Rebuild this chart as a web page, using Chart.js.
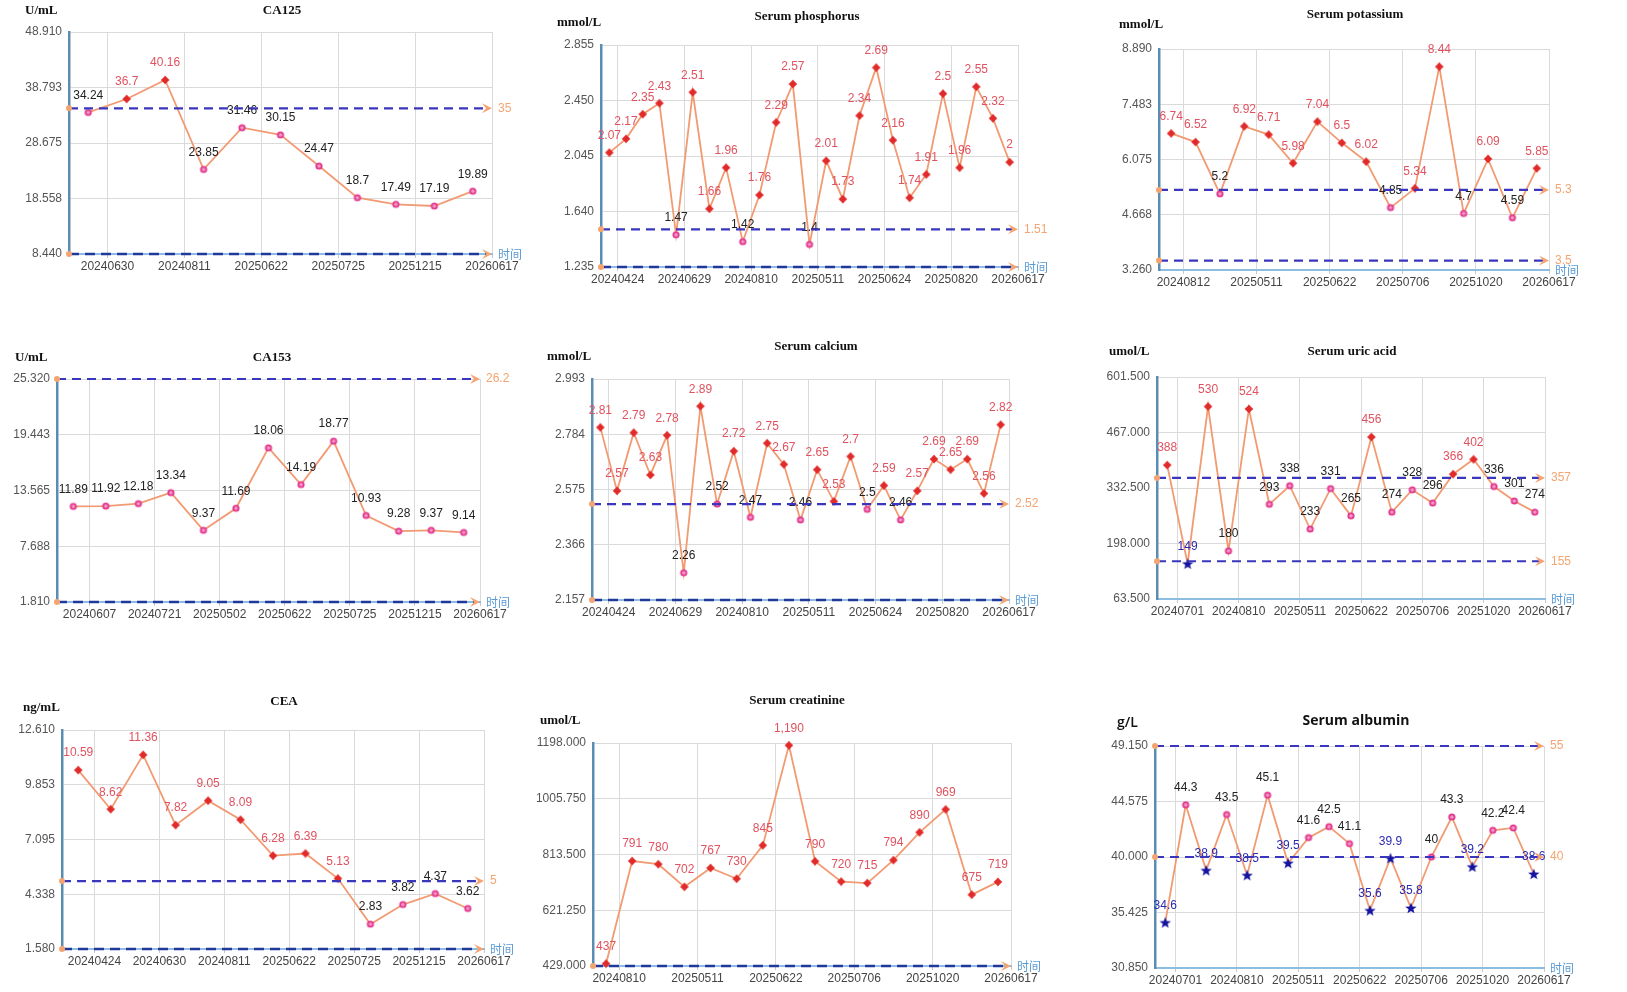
<!DOCTYPE html>
<html>
<head>
<meta charset="utf-8">
<script src="https://cdn.jsdelivr.net/npm/chart.js@4.4.1/dist/chart.umd.min.js"></script>
<style>
  html, body { margin: 0; padding: 0; background: #fff; overflow: hidden; }
  body { width: 1627px; height: 992px; position: relative; }
  .panel { position: absolute; }
</style>
</head>
<body>
<script>
// ---- data ----
const ca125Values = [34.24, 36.7, 40.16, 23.85, 31.46, 30.15, 24.47, 18.7, 17.49, 17.19, 19.89];
const ca125Dates = ['20240630', '20240811', '20250622', '20250725', '20251215', '20260617'];

const phosValues = [2.07, 2.17, 2.35, 2.43, 1.47, 2.51, 1.66, 1.96, 1.42, 1.76, 2.29, 2.57, 1.4,
  2.01, 1.73, 2.34, 2.69, 2.16, 1.74, 1.91, 2.5, 1.96, 2.55, 2.32, 2];
const phosDates = ['20240424', '20240629', '20240810', '20250511', '20250624', '20250820', '20260617'];

const potValues = [6.74, 6.52, 5.2, 6.92, 6.71, 5.98, 7.04, 6.5, 6.02, 4.85, 5.34, 8.44, 4.7, 6.09, 4.59, 5.85];
const potDates = ['20240812', '20250511', '20250622', '20250706', '20251020', '20260617'];

const ca153Values = [11.89, 11.92, 12.18, 13.34, 9.37, 11.69, 18.06, 14.19, 18.77, 10.93, 9.28, 9.37, 9.14];
const ca153Dates = ['20240607', '20240721', '20250502', '20250622', '20250725', '20251215', '20260617'];

const calValues = [2.81, 2.57, 2.79, 2.63, 2.78, 2.26, 2.89, 2.52, 2.72, 2.47, 2.75, 2.67, 2.46,
  2.65, 2.53, 2.7, 2.5, 2.59, 2.46, 2.57, 2.69, 2.65, 2.69, 2.56, 2.82];
const calDates = ['20240424', '20240629', '20240810', '20250511', '20250624', '20250820', '20260617'];

const uricValues = [388, 149, 530, 180, 524, 293, 338, 233, 331, 265, 456, 274, 328, 296, 366, 402, 336, 301, 274];
const uricDates = ['20240701', '20240810', '20250511', '20250622', '20250706', '20251020', '20260617'];

const ceaValues = [10.59, 8.62, 11.36, 7.82, 9.05, 8.09, 6.28, 6.39, 5.13, 2.83, 3.82, 4.37, 3.62];
const ceaDates = ['20240424', '20240630', '20240811', '20250622', '20250725', '20251215', '20260617'];

const creValues = [437, 791, 780, 702, 767, 730, 845, 1190, 790, 720, 715, 794, 890, 969, 675, 719];
const creDates = ['20240810', '20250511', '20250622', '20250706', '20251020', '20260617'];

const albValues = [34.6, 44.3, 38.9, 43.5, 38.5, 45.1, 39.5, 41.6, 42.5, 41.1, 35.6, 39.9, 35.8,
  40, 43.3, 39.2, 42.2, 42.4, 38.6];
const albDates = ['20240701', '20240810', '20250511', '20250622', '20250706', '20251020', '20260617'];

// y ranges, limits and reference lines
const ca125Axis = [8.44, 48.91];   const ca125Limits = [null, 35];   const ca125Refs = [35];        const ca125RefText = ['35'];
const phosAxis = [1.235, 2.855];   const phosLimits = [null, 1.51];  const phosRefs = [1.51];       const phosRefText = ['1.51'];
const potAxis = [3.26, 8.89];      const potLimits = [3.5, 5.3];     const potRefs = [5.3, 3.5];    const potRefText = ['5.3', '3.5'];
const ca153Axis = [1.81, 25.32];   const ca153Limits = [null, 26.2]; const ca153Refs = [26.2];      const ca153RefText = ['26.2'];
const calAxis = [2.157, 2.993];    const calLimits = [null, 2.52];   const calRefs = [2.52];        const calRefText = ['2.52'];
const uricAxis = [63.5, 601.5];    const uricLimits = [155, 357];    const uricRefs = [357, 155];   const uricRefText = ['357', '155'];
const ceaAxis = [1.58, 12.61];     const ceaLimits = [null, 5];      const ceaRefs = [5];           const ceaRefText = ['5'];
const creAxis = [429, 1198];       const creLimits = [null, 429];    const creRefs = [];            const creRefText = [];
const albAxis = [30.85, 49.15];    const albLimits = [40, 55];       const albRefs = [55, 40];      const albRefText = ['55', '40'];

// ---- panel specs ----
const panels = [
  { title: 'CA125', unit: 'U/mL', values: ca125Values, dates: ca125Dates, step: 2, axis: ca125Axis, limits: ca125Limits, refs: ca125Refs, refText: ca125RefText, floor: true },
  { title: 'Serum phosphorus', unit: 'mmol/L', values: phosValues, dates: phosDates, step: 4, axis: phosAxis, limits: phosLimits, refs: phosRefs, refText: phosRefText, floor: true },
  { title: 'Serum potassium', unit: 'mmol/L', values: potValues, dates: potDates, step: 3, axis: potAxis, limits: potLimits, refs: potRefs, refText: potRefText, floor: false },
  { title: 'CA153', unit: 'U/mL', values: ca153Values, dates: ca153Dates, step: 2, axis: ca153Axis, limits: ca153Limits, refs: ca153Refs, refText: ca153RefText, floor: true },
  { title: 'Serum calcium', unit: 'mmol/L', values: calValues, dates: calDates, step: 4, axis: calAxis, limits: calLimits, refs: calRefs, refText: calRefText, floor: true },
  { title: 'Serum uric acid', unit: 'umol/L', values: uricValues, dates: uricDates, step: 3, axis: uricAxis, limits: uricLimits, refs: uricRefs, refText: uricRefText, floor: false },
  { title: 'CEA', unit: 'ng/mL', values: ceaValues, dates: ceaDates, step: 2, axis: ceaAxis, limits: ceaLimits, refs: ceaRefs, refText: ceaRefText, floor: true },
  { title: 'Serum creatinine', unit: 'umol/L', values: creValues, dates: creDates, step: 3, axis: creAxis, limits: creLimits, refs: creRefs, refText: creRefText, floor: true },
  { title: 'Serum albumin', unit: 'g/L', values: albValues, dates: albDates, step: 3, axis: albAxis, limits: albLimits, refs: albRefs, refText: albRefText, floor: false, sans: true }
];

// plot rectangles and text anchors on the page
const boxes = [
  { L: 69,   T: 32,  R: 492,  B: 254, tx: 282,  ty: 11,  ux: 25,   uy: 11 },
  { L: 601,  T: 45,  R: 1018, B: 267, tx: 807,  ty: 17,  ux: 557,  uy: 23 },
  { L: 1159, T: 49,  R: 1549, B: 270, tx: 1355, ty: 15,  ux: 1119, uy: 25 },
  { L: 57,   T: 379, R: 480,  B: 602, tx: 272,  ty: 358, ux: 15,   uy: 358 },
  { L: 592,  T: 379, R: 1009, B: 600, tx: 816,  ty: 347, ux: 547,  uy: 357 },
  { L: 1157, T: 377, R: 1545, B: 599, tx: 1352, ty: 352, ux: 1109, uy: 352 },
  { L: 62,   T: 730, R: 484,  B: 949, tx: 284,  ty: 702, ux: 23,   uy: 708 },
  { L: 593,  T: 743, R: 1011, B: 966, tx: 797,  ty: 701, ux: 540,  uy: 721 },
  { L: 1155, T: 746, R: 1544, B: 968, tx: 1356, ty: 721, ux: 1117, uy: 723 }
];

const YW = 70, PT = 60, PR = 45, XH = 22;
const SANS = '"Liberation Sans", Arial, sans-serif';
const LINE = '#f29a72';
const ORANGE = '#f4a470';
const RED_TXT = '#e0525f';
const BLUE_TXT = '#2a2ab0';

Chart.defaults.font.family = SANS;

// marker images
function markerCanvas(draw) {
  const c = document.createElement('canvas');
  c.width = 14; c.height = 14;
  draw(c.getContext('2d'));
  return c;
}
const redMarker = markerCanvas(g => {
  g.fillStyle = '#e12a2a';
  g.beginPath();
  g.moveTo(7, 2.6); g.lineTo(9, 5); g.lineTo(11.4, 7); g.lineTo(9, 9);
  g.lineTo(7, 11.4); g.lineTo(5, 9); g.lineTo(2.6, 7); g.lineTo(5, 5);
  g.closePath(); g.fill();
  g.beginPath(); g.arc(7, 7, 2.7, 0, Math.PI * 2); g.fill();
});
const pinkMarker = markerCanvas(g => {
  g.beginPath(); g.arc(7, 7, 2.7, 0, Math.PI * 2);
  g.fillStyle = '#f59ac6'; g.fill();
  g.lineWidth = 1.8; g.strokeStyle = '#e2388e'; g.stroke();
});
const blueMarker = markerCanvas(g => {
  g.fillStyle = '#1414a0';
  g.beginPath();
  for (let k = 0; k < 10; k++) {
    const r = k % 2 === 0 ? 6 : 2.5;
    const a = -Math.PI / 2 + k * Math.PI / 5;
    const px = 7 + r * Math.cos(a), py = 7.5 + r * Math.sin(a);
    if (k === 0) g.moveTo(px, py); else g.lineTo(px, py);
  }
  g.closePath(); g.fill();
});

function status(v, limits) {
  if (limits[1] != null && v > limits[1]) return 'high';
  if (limits[0] != null && v < limits[0]) return 'low';
  return 'ok';
}

function fmt(v) {
  return v.toLocaleString('en-US', { maximumFractionDigits: 3 });
}

function tickText(v) {
  return (Math.round(v * 1000 + 1e-6) / 1000).toFixed(3);
}

function drawArrowEnd(ctx, x, y) {
  ctx.fillStyle = ORANGE;
  ctx.beginPath();
  ctx.moveTo(x - 10, y - 5);
  ctx.lineTo(x, y);
  ctx.lineTo(x - 10, y + 5);
  ctx.lineTo(x - 6, y);
  ctx.closePath();
  ctx.fill();
}

function makePanel(spec, box) {
  const left = box.L - YW, top = box.T - PT;
  const div = document.createElement('div');
  div.className = 'panel';
  div.style.left = left + 'px';
  div.style.top = top + 'px';
  div.style.width = (box.R - box.L + YW + PR) + 'px';
  div.style.height = (box.B - box.T + PT + XH) + 'px';
  const cv = document.createElement('canvas');
  div.appendChild(cv);
  document.body.appendChild(div);

  const n = spec.values.length;
  const tickPos = [];
  for (let k = n; k >= 1; k -= spec.step) tickPos.unshift(k);
  const [yMin, yMax] = spec.axis;
  const kinds = spec.values.map(v => status(v, spec.limits));
  const styles = kinds.map(k => k === 'high' ? redMarker : (k === 'low' ? blueMarker : pinkMarker));

  const decor = {
    id: 'decor',
    afterDatasetsDraw(chart) {
      const ctx = chart.ctx;
      const a = chart.chartArea;
      const ys = chart.scales.y;
      ctx.save();

      // value labels
      ctx.font = '12px ' + SANS;
      ctx.textAlign = 'center';
      ctx.textBaseline = 'middle';
      chart.getDatasetMeta(0).data.forEach((pt, i) => {
        const k = kinds[i];
        ctx.fillStyle = k === 'high' ? RED_TXT : (k === 'low' ? BLUE_TXT : '#222');
        ctx.fillText(fmt(spec.values[i]), pt.x, pt.y - 17);
      });

      // floor dashed line at the x axis
      if (spec.floor) {
        ctx.setLineDash([10, 6]);
        ctx.lineWidth = 2.6;
        ctx.strokeStyle = '#22399a';
        ctx.beginPath();
        ctx.moveTo(a.left, a.bottom);
        ctx.lineTo(a.right - 6, a.bottom);
        ctx.stroke();
        ctx.setLineDash([]);
        ctx.fillStyle = ORANGE;
        ctx.beginPath(); ctx.arc(a.left, a.bottom, 3, 0, Math.PI * 2); ctx.fill();
        drawArrowEnd(ctx, a.right, a.bottom);
      }

      // reference lines
      spec.refs.forEach((rv, j) => {
        const cl = Math.min(Math.max(rv, yMin), yMax);
        const y = ys.getPixelForValue(cl);
        ctx.setLineDash([9, 6]);
        ctx.lineWidth = 2.2;
        ctx.strokeStyle = '#3a36bd';
        ctx.beginPath();
        ctx.moveTo(a.left, y);
        ctx.lineTo(a.right - 6, y);
        ctx.stroke();
        ctx.setLineDash([]);
        ctx.fillStyle = ORANGE;
        ctx.beginPath(); ctx.arc(a.left, y, 3, 0, Math.PI * 2); ctx.fill();
        drawArrowEnd(ctx, a.right, y);
        ctx.font = '12px ' + SANS;
        ctx.textAlign = 'left';
        ctx.fillStyle = ORANGE;
        ctx.fillText(spec.refText[j], a.right + 6, y);
      });

      // x axis name
      ctx.font = '12px "Noto Sans CJK SC", sans-serif';
      ctx.textAlign = 'left';
      ctx.textBaseline = 'middle';
      ctx.fillStyle = '#5b9bd5';
      ctx.fillText('时间', a.right + 6, a.bottom);

      // title and unit
      ctx.fillStyle = '#111';
      ctx.textBaseline = 'middle';
      ctx.textAlign = 'center';
      ctx.font = spec.sans ? 'bold 14px "Open Sans", sans-serif' : 'bold 13px "Liberation Serif", serif';
      ctx.fillText(spec.title, box.tx - left, box.ty - top);
      ctx.textAlign = 'left';
      ctx.font = spec.sans ? '600 14px "Open Sans", sans-serif' : 'bold 13px "Liberation Serif", serif';
      ctx.fillText(spec.unit, box.ux - left, box.uy - top);
      ctx.restore();
    }
  };

  new Chart(cv, {
    type: 'line',
    data: {
      datasets: [{
        data: spec.values.map((v, i) => ({ x: i + 0.5, y: v })),
        borderColor: LINE,
        borderWidth: 1.8,
        tension: 0,
        pointStyle: styles,
        pointRadius: 4,
        pointHoverRadius: 4,
        clip: false
      }]
    },
    options: {
      responsive: true,
      maintainAspectRatio: false,
      animation: false,
      events: [],
      layout: { padding: { top: PT, right: PR, left: 0, bottom: 0 } },
      plugins: {
        legend: { display: false },
        tooltip: { enabled: false }
      },
      scales: {
        x: {
          type: 'linear',
          min: 0,
          max: n,
          afterBuildTicks: s => { s.ticks = tickPos.map(v => ({ value: v })); },
          afterFit: s => { s.height = XH; },
          grid: { color: '#dadada', lineWidth: 1, drawTicks: true, tickLength: 4, tickColor: '#c8c8c8' },
          border: { display: true, color: '#8dbde0', width: 2 },
          ticks: {
            autoSkip: false,
            maxRotation: 0,
            padding: 1,
            color: '#444',
            font: { size: 12 },
            callback: (v, i) => spec.dates[i]
          }
        },
        y: {
          min: yMin,
          max: yMax,
          afterBuildTicks: s => {
            s.ticks = [0, 1, 2, 3, 4].map(k => ({ value: yMin + (yMax - yMin) * k / 4 }));
          },
          afterFit: s => { s.width = YW; },
          grid: { color: '#dadada', drawTicks: false },
          border: { display: true, color: '#5b8db3', width: 2.5 },
          ticks: {
            padding: 7,
            color: '#555',
            font: { size: 12 },
            callback: v => tickText(v)
          }
        }
      }
    },
    plugins: [decor]
  });
}

panels.forEach((p, i) => makePanel(p, boxes[i]));
</script>
</body>
</html>
